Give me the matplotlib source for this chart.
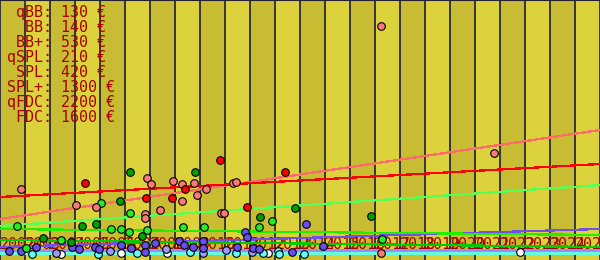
import numpy as np
import matplotlib
matplotlib.use("Agg")
import matplotlib.pyplot as plt
import matplotlib.transforms as mtransforms

# legend / price summary
names = ["qBB", "BB", "BB+", "qSPL", "SPL", "SPL+", "qFDC", "FDC"]
prices = [130, 140, 530, 210, 420, 1300, 2200, 1600]

years = list(range(2002, 2026))

# points per series: (year, value)
qbb_x = [2004.44, 2006.84, 2008.68, 2012.72, 2022.8]
qbb_y = [60, 70, 70, 70, 80]
bb_x = [2003.28, 2005.92, 2007.48, 2009.6, 2011.44, 2012.52, 2013.12, 2013.16, 2014.16]
bb_y = [60, 60, 70, 80, 70, 70, 90, 60, 60]
bbp_x = [2004.24, 2006.4, 2008.64, 2010.12, 2011.04, 2012.08]
bbp_y = [70, 90, 110, 70, 100, 80]
qspl_x = [2002.36, 2002.84, 2003.44, 2004.88, 2005.16, 2005.8, 2005.96, 2006.84,
          2007.24, 2007.8, 2007.8, 2008.2, 2009.16, 2009.36, 2009.72, 2010.12,
          2010.12, 2011.8, 2011.88, 2011.48, 2012.12, 2012.36, 2013.68, 2014.24, 2014.92]
qspl_y = [90, 90, 130, 130, 110, 130, 110, 150, 120, 150, 80, 170, 190, 150, 130,
          190, 120, 280, 230, 130, 120, 110, 80, 360, 140]
spl_x = [2002.68, 2003.04, 2004.44, 2006.04, 2006.44, 2006.84, 2007.16, 2007.2,
         2007.88, 2009.32, 2010.16, 2012.36, 2012.88, 2017.28]
spl_y = [340, 120, 200, 570, 310, 310, 280, 470, 300, 330, 330, 330, 390, 210]
splp_x = [2003.72, 2004.84, 2005.28, 2005.84, 2006.8, 2007.2, 2007.68, 2009.8,
          2012.4, 2013.8, 2016.84]
splp_y = [220, 180, 340, 360, 590, 880, 240, 880, 430, 520, 440]
qfdc_x = [2002.84, 2005.04, 2005.84, 2007.88, 2008.04, 2008.92, 2009.28, 2009.76,
          2009.28, 2008.4, 2007.8, 2007.8, 2009.88, 2010.24, 2011.32, 2011.44,
          2010.84, 2010.96, 2017.24, 2021.76, 2017.24]
qfdc_y = [710, 550, 530, 820, 760, 790, 760, 770, 590, 500, 460, 420, 650, 710,
          770, 780, 470, 470, 2340, 1070, 70]
fdc_x = [2005.4, 2007.84, 2008.88, 2009.4, 2010.8, 2011.88, 2013.4]
fdc_y = [770, 620, 620, 710, 1000, 530, 880]

point_colors = ["#ffffff", "#66ffff", "#9a9aff", "#6a4cf0",
                "#22ee22", "#00a000", "#ff7878", "#ff0000"]

# trend lines: value at 2002 and at 2026
trend_start = [70, 100, 130, 200, 310, 340, 410, 630]
trend_end = [70, 100, 310, 130, 250, 750, 1300, 960]
trend_colors = ["#66ffdd", "#9a8cff", "#7050e8", "#00cc00",
                "#22ee00", "#55ff55", "#ff6a6a", "#ff0000"]

text_color = "#a80000"
mono = "DejaVu Sans Mono"

fig = plt.figure(figsize=(6, 2.6), dpi=100)
ax = fig.add_axes([0, 0, 1, 1])
ax.set_xlim(2002, 2026)
ax.set_ylim(0, 2600)
ax.set_facecolor("#dcd23c")

for i, yr in enumerate(years):
    if i % 2 == 0:
        ax.axvspan(yr, yr + 1, color="#c8bc32", lw=0, zorder=0)
for yr in years + [2026]:
    ax.axvline(yr, color="#2a2a3a", lw=1.3, zorder=1)

# year labels, drawn behind the data
blend = mtransforms.blended_transform_factory(ax.transData, ax.transAxes)
for yr in years:
    ax.text(yr, 11 / 260, str(yr), transform=blend, color=text_color,
            family=mono, fontsize=10.8, ha="left", va="baseline", zorder=2)

for s, e, c in zip(trend_start, trend_end, trend_colors):
    ax.plot([2002, 2026], [s, e], color=c, lw=0.9, antialiased=False, zorder=3)

series = [(qbb_x, qbb_y), (bb_x, bb_y), (bbp_x, bbp_y), (qspl_x, qspl_y),
          (spl_x, spl_y), (splp_x, splp_y), (qfdc_x, qfdc_y), (fdc_x, fdc_y)]
for (xs, ys), c in zip(series, point_colors):
    ax.scatter(xs, ys, s=30, c=c, edgecolors="black", linewidths=0.8, zorder=4)

for i, (n, p) in enumerate(zip(names, prices)):
    ax.text(7 / 600, 1 - (17 + 15 * i) / 260, f"{n:>4}: {p} €",
            transform=ax.transAxes, color=text_color, family=mono, fontsize=10.8,
            ha="left", va="baseline", zorder=5)

ax.set_xticks([])
ax.set_yticks([])
for side in ["left", "right", "bottom"]:
    ax.spines[side].set_visible(False)
ax.spines["top"].set_color("#222233")
ax.spines["top"].set_linewidth(1.5)

fig.savefig("out.png", dpi=100)
